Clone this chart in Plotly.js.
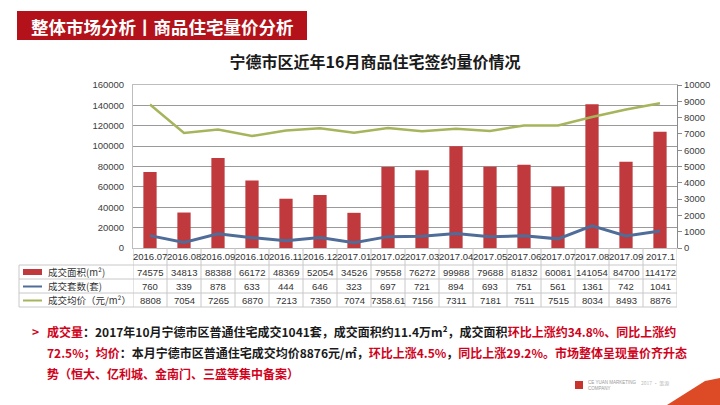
<!DOCTYPE html>
<html><head><meta charset="utf-8">
<script src="https://cdn.plot.ly/plotly-3.0.1.min.js"></script>
<style>html,body{margin:0;padding:0;background:#fff;}#chart{width:720px;height:405px;}</style>
</head><body><div id="chart"></div>
<script>
const categories = ['2016.07','2016.08','2016.09','2016.10','2016.11','2016.12','2017.01','2017.02','2017.03','2017.04','2017.05','2017.06','2017.07','2017.08','2017.09','2017.1'];
const areaValues = [74575,34813,88388,66172,48369,52054,34526,79558,76272,99988,79688,81832,60081,141054,84700,114172];
const countValues = [760,339,878,633,444,646,323,697,721,894,693,751,561,1361,742,1041];
const priceValues = [8808,7054,7265,6870,7213,7350,7074,7358.61,7156,7311,7181,7511,7515,8034,8493,8876];
const seriesNames = ['成交面积(m²)','成交套数(套)','成交均价（元/m²）'];
const headerText = '整体市场分析丨商品住宅量价分析';
const chartTitle = '宁德市区近年16月商品住宅签约量价情况';

const RED = '#c0393d', BLUE = '#4f6d98', GREEN = '#a6b55b', HL = '#d0021b';
const L = 133, R = 677, T = 85, B = 248;
const W = R - L, H = B - T;
const px = v => (v - L) / W;
const py = v => (B - v) / H;
const CJK = '"Noto Sans CJK SC", "Noto Sans", sans-serif';
const NUM = '"Liberation Sans", Arial, sans-serif';

const xs = categories.map((c, i) => i);

const traces = [
  {type:'bar', x: xs, y: areaValues, name: seriesNames[0], marker:{color: RED}, yaxis:'y', hoverinfo:'skip'},
  {type:'scatter', mode:'lines', x: xs, y: countValues, name: seriesNames[1], line:{color: BLUE, width: 3}, yaxis:'y2'},
  {type:'scatter', mode:'lines', x: xs, y: priceValues, name: seriesNames[2], line:{color: GREEN, width: 2.5}, yaxis:'y2'}
];

const shapes = [];
const annotations = [];
const GRID = '#c8c8c8';
// header bar
shapes.push({type:'rect', xref:'paper', yref:'paper', x0: px(17), x1: px(307), y0: py(40), y1: py(11), fillcolor:'#b3121a', line:{width:0}, layer:'below'});
annotations.push({xref:'paper', yref:'paper', x: px(162), y: py(26), text: headerText, showarrow:false, xanchor:'center', yanchor:'middle', font:{family: CJK, size: 17.5, color:'#fff', weight: 700}});

// table lines
[265, 279, 293, 307].forEach(yy => shapes.push({type:'line', xref:'paper', yref:'paper', x0: px(19), x1: px(R), y0: py(yy), y1: py(yy), line:{color: GRID, width: 1}}));
shapes.push({type:'line', xref:'paper', yref:'paper', x0: px(19), x1: px(19), y0: py(265), y1: py(307), line:{color: GRID, width: 1}});
for (let i = 0; i <= categories.length; i++) {
  shapes.push({type:'line', xref:'x', yref:'paper', x0: i - 0.5, x1: i - 0.5, y0: py(248), y1: py(307), line:{color: GRID, width: 1}});
}
// legend keys
shapes.push({type:'rect', xref:'paper', yref:'paper', x0: px(23), x1: px(42), y0: py(275), y1: py(269), fillcolor: RED, line:{width:0}});
shapes.push({type:'line', xref:'paper', yref:'paper', x0: px(23), x1: px(42), y0: py(286.5), y1: py(286.5), line:{color: BLUE, width: 2}});
shapes.push({type:'line', xref:'paper', yref:'paper', x0: px(23), x1: px(42), y0: py(300.5), y1: py(300.5), line:{color: GREEN, width: 2}});

const rowY = [272, 286, 300];
const rows = [areaValues, countValues, priceValues];
seriesNames.forEach((n, r) => {
  annotations.push({xref:'paper', yref:'paper', x: px(46), y: py(rowY[r]), text: n, showarrow:false, xanchor:'left', yanchor:'middle', font:{family: CJK, size: 9.5, color:'#333'}});
  rows[r].forEach((v, i) => {
    annotations.push({xref:'x', yref:'paper', x: i, y: py(rowY[r]), text: String(v), showarrow:false, xanchor:'center', yanchor:'middle', font:{family: NUM, size: 9.5, color:'#333'}});
  });
});
categories.forEach((c, i) => {
  annotations.push({xref:'x', yref:'paper', x: i, y: py(256.5), text: c, showarrow:false, xanchor:'center', yanchor:'middle', font:{family: NUM, size: 9.5, color:'#333'}});
});

// bottom commentary
const red = s => '<span style="color:' + HL + '">' + s + '</span>';
const blk = s => '<span style="color:#1a1a1a">' + s + '</span>';
const noteLines = [
  red('成交量') + blk('：2017年10月宁德市区普通住宅成交1041套，成交面积约11.4万m²，成交面积') + red('环比上涨约34.8%、同比上涨约'),
  red('72.5%；均价') + blk('：本月宁德市区普通住宅成交均价8876元/㎡，') + red('环比上涨4.5%') + blk('，') + red('同比上涨29.2%。市场整体呈现量价齐升态'),
  red('势（恒大、亿利城、金南门、三盛等集中备案）')
];
const noteY = [331, 352, 373];
noteLines.forEach((t, k) => {
  annotations.push({xref:'paper', yref:'paper', x: px(45), y: py(noteY[k]), text: t, showarrow:false, xanchor:'left', yanchor:'middle', font:{family: CJK, size: 12, color:'#1a1a1a', weight: 700}});
});
annotations.push({xref:'paper', yref:'paper', x: px(35), y: py(331), text: '>', showarrow:false, xanchor:'center', yanchor:'middle', font:{family: CJK, size: 12, color: HL, weight: 700}});

// logo & corner swoosh
shapes.push({type:'rect', xref:'paper', yref:'paper', x0: px(575), x1: px(583), y0: py(389), y1: py(381), fillcolor:'#c8342b', line:{width:0}});
annotations.push({xref:'paper', yref:'paper', x: px(586), y: py(385), text:'CE YUAN MARKETING<br>COMPANY', showarrow:false, xanchor:'left', yanchor:'middle', align:'left', font:{family: NUM, size: 4.5, color:'#999'}});
annotations.push({xref:'paper', yref:'paper', x: px(655), y: py(383), text:'2017 · 策源', showarrow:false, xanchor:'center', yanchor:'middle', font:{family: CJK, size: 5, color:'#bbb'}});
shapes.push({type:'path', xref:'paper', yref:'paper', path: 'M ' + px(667) + ' ' + py(405) + ' L ' + px(705) + ' ' + py(381) + ' L ' + px(720) + ' ' + py(378) + ' L ' + px(720) + ' ' + py(405) + ' Z', fillcolor:'#dc4a26', line:{width:0}});

const layout = {
  width: 720, height: 405,
  margin: {l: L, r: 720 - R, t: T, b: 405 - B, pad: 0},
  paper_bgcolor: '#fff', plot_bgcolor: '#fff',
  showlegend: false,
  bargap: 0.61,
  title: {text: chartTitle, x: 375 / 720, xanchor:'center', y: 1 - 62 / 405, yanchor:'middle', font:{family: CJK, size: 16, color:'#1a1a1a', weight: 700}},
  xaxis: {type:'linear', range:[-0.5, categories.length - 0.5], showticklabels:false, showgrid:false, zeroline:false, showline:true, linecolor:'#bdbdbd', mirror:true, ticks:'', fixedrange:true},
  yaxis: {range:[0, 160000], dtick: 20000, tickformat:'d', showgrid:true, gridcolor:'#9a9a9a', gridwidth:1, zeroline:false, showline:true, linecolor:'#bdbdbd', ticks:'', ticklabelstandoff: 6, tickfont:{family: NUM, size: 9.5, color:'#404040'}},
  yaxis2: {range:[0, 10000], dtick: 1000, tickformat:'d', overlaying:'y', side:'right', showgrid:false, zeroline:false, showline:true, linecolor:'#8a8a8a', ticks:'outside', ticklen:4, tickcolor:'#8a8a8a', tickfont:{family: NUM, size: 9.5, color:'#404040'}},
  shapes: shapes,
  annotations: annotations
};

Plotly.newPlot('chart', traces, layout, {displayModeBar:false, staticPlot:true});
</script>
</body></html>
